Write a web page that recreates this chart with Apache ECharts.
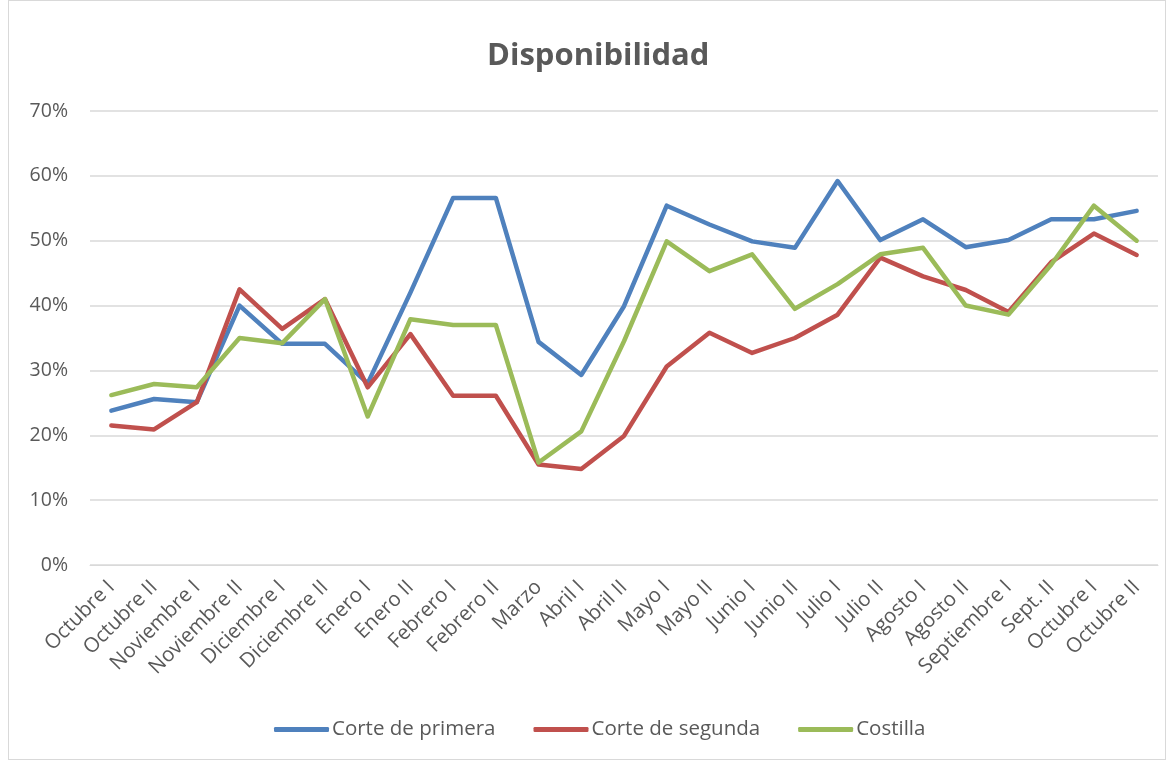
<!DOCTYPE html>
<html>
<head>
<meta charset="utf-8">
<script src="https://cdn.jsdelivr.net/npm/echarts@6/dist/echarts.min.js"></script>
<style>
html,body{margin:0;padding:0;background:#fff;}
#frame{position:absolute;left:8px;top:0px;width:1158px;height:760px;border:1px solid #d9d9d9;box-sizing:border-box;}
#chart{position:absolute;left:0;top:0;width:1175px;height:763px;}
</style>
</head>
<body>
<div id="frame"></div>
<div id="chart"></div>
<script>
const categories = ["Octubre I","Octubre II","Noviembre I","Noviembre II","Diciembre I","Diciembre II","Enero I","Enero II","Febrero I","Febrero II","Marzo","Abril I","Abril II","Mayo I","Mayo II","Junio I","Junio II","Julio I","Julio II","Agosto I","Agosto II","Septiembre I","Sept. II","Octubre I","Octubre II"];
const cortePrimera = [23.8,25.6,25.1,40.0,34.1,34.1,28.0,42.0,56.6,56.6,34.4,29.3,39.9,55.4,52.5,49.9,48.9,59.2,50.1,53.3,49.0,50.1,53.3,53.3,54.6];
const corteSegunda = [21.5,20.9,25.1,42.5,36.4,41.0,27.4,35.6,26.1,26.1,15.5,14.8,19.9,30.6,35.8,32.7,35.0,38.6,47.4,44.5,42.4,39.0,46.7,51.1,47.8];
const costilla = [26.2,27.9,27.4,35.0,34.2,41.0,22.9,37.9,37.0,37.0,15.8,20.6,34.5,49.9,45.3,47.9,39.5,43.3,47.9,48.9,40.0,38.6,46.3,55.4,50.0];
const seriesNames = ["Corte de primera","Corte de segunda","Costilla"];
const colors = ["#4F81BD","#C0504D","#9BBB59"];

const chart = echarts.init(document.getElementById('chart'));
const font = "'Open Sans', 'Noto Sans', sans-serif";
const mk = (name, data, color) => ({
  name, type: 'line', data, symbol: 'none',
  lineStyle: {width: 4.5, color, cap: 'round', join: 'round'},
  itemStyle: {color}
});
chart.setOption({
  animation: false,
  color: colors,
  title: {
    text: 'Disponibilidad', left: 482, top: 36,
    textStyle: {fontFamily: font, fontSize: 31, fontWeight: 'bold', color: '#595959'}
  },
  legend: {
    bottom: 18, left: 269, itemWidth: 55, itemHeight: 5, itemGap: 38,
    icon: 'roundRect',
    textStyle: {fontFamily: font, fontSize: 20.5, color: '#595959', padding: [0,0,0,-2]},
    data: seriesNames
  },
  grid: {left: 90, right: 17, top: 111, bottom: 198, containLabel: false},
  xAxis: {
    type: 'category', data: categories, boundaryGap: true,
    axisLine: {show: true, lineStyle: {color: '#d9d9d9', width: 1}},
    axisTick: {show: false},
    axisLabel: {rotate: 45, interval: 0, fontFamily: font, fontSize: 20.5, color: '#595959', margin: 19}
  },
  yAxis: {
    type: 'value', min: 0, max: 70, interval: 10,
    axisLine: {show: false}, axisTick: {show: false},
    splitLine: {lineStyle: {color: '#d9d9d9', width: 1.5}},
    axisLabel: {formatter: '{value}%', fontFamily: font, fontSize: 19.5, color: '#595959', margin: 22}
  },
  series: [
    mk(seriesNames[0], cortePrimera, colors[0]),
    mk(seriesNames[1], corteSegunda, colors[1]),
    mk(seriesNames[2], costilla, colors[2])
  ]
});
</script>
</body>
</html>
